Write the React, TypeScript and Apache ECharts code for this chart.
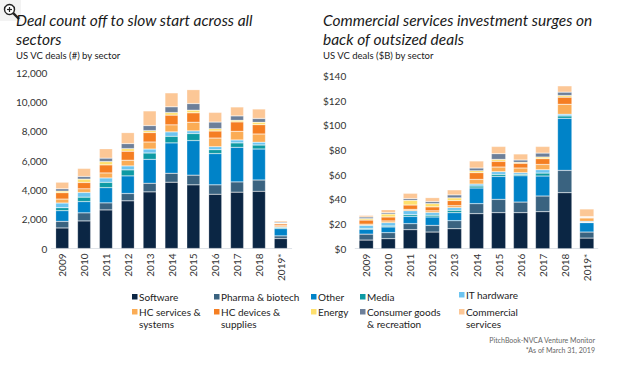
import React, { useEffect, useRef } from "react";
import * as echarts from "echarts";

const years = ["2009", "2010", "2011", "2012", "2013", "2014", "2015", "2016", "2017", "2018", "2019*"];
const sectors = [
  "Software",
  "Pharma & biotech",
  "Other",
  "Media",
  "IT hardware",
  "HC services & systems",
  "HC devices & supplies",
  "Energy",
  "Consumer goods & recreation",
  "Commercial services",
];
const legendLabels = [
  "Software",
  "Pharma & biotech",
  "Other",
  "Media",
  "IT hardware",
  "HC services &\nsystems",
  "HC devices &\nsupplies",
  "Energy",
  "Consumer goods\n& recreation",
  "Commercial\nservices",
];
const colors = ["#0b2644", "#3a6380", "#0083c8", "#0d9aa4", "#6cc4f0", "#fbac55", "#f57e22", "#ffe06e", "#6d7f99", "#fcc796"];

// US VC deals (#) by sector
const dealSoftware = [1400, 1880, 2630, 3250, 3860, 4520, 4340, 3700, 3840, 3900, 680];
const dealPharma = [450, 550, 480, 500, 590, 610, 660, 640, 700, 770, 180];
const dealOther = [730, 770, 1040, 1200, 1630, 2070, 2360, 2130, 2360, 2110, 500];
const dealMedia = [200, 300, 360, 410, 430, 450, 480, 270, 300, 270, 70];
const dealIT = [320, 320, 300, 270, 270, 300, 180, 200, 200, 200, 45];
const dealHCServices = [270, 250, 340, 390, 480, 480, 590, 590, 590, 550, 90];
const dealHCDevices = [430, 430, 550, 610, 640, 660, 640, 480, 640, 640, 110];
const dealEnergy = [110, 230, 230, 180, 140, 180, 180, 160, 110, 160, 45];
const dealConsumer = [160, 180, 230, 340, 340, 390, 450, 450, 300, 270, 70];
const dealCommercial = [450, 550, 640, 750, 1000, 950, 950, 660, 610, 640, 90];

// US VC deals ($B) by sector
const capSoftware = [7.0, 8.1, 15.4, 13.5, 16.2, 28.4, 29.2, 29.2, 30.0, 45.4, 8.6];
const capPharma = [4.8, 4.9, 4.9, 5.4, 6.5, 8.1, 10.8, 8.6, 12.7, 18.1, 4.9];
const capOther = [4.0, 4.6, 5.9, 6.8, 6.5, 12.7, 18.6, 21.3, 16.2, 42.2, 7.6];
const capMedia = [0.6, 0.8, 1.4, 1.4, 1.9, 1.6, 1.6, 1.1, 2.4, 1.9, 0.3];
const capIT = [2.5, 2.7, 3.2, 2.2, 2.2, 1.6, 2.2, 1.4, 2.7, 1.4, 0.8];
const capHCServices = [1.0, 1.4, 1.1, 1.4, 1.6, 3.8, 3.8, 3.8, 4.3, 8.1, 2.7];
const capHCDevices = [3.3, 3.2, 3.5, 3.2, 4.1, 5.4, 4.6, 3.8, 4.6, 5.7, 0.5];
const capEnergy = [1.2, 2.4, 3.8, 2.7, 2.2, 1.6, 1.6, 0.8, 1.4, 1.4, 0.3];
const capConsumer = [1.3, 1.1, 1.4, 1.6, 2.4, 2.2, 4.6, 1.9, 3.2, 2.7, 0.3];
const capCommercial = [1.3, 2.4, 4.3, 3.2, 4.1, 5.7, 5.9, 4.9, 5.4, 5.1, 6.2];

const dealData = [dealSoftware, dealPharma, dealOther, dealMedia, dealIT, dealHCServices, dealHCDevices, dealEnergy, dealConsumer, dealCommercial];
const capData = [capSoftware, capPharma, capOther, capMedia, capIT, capHCServices, capHCDevices, capEnergy, capConsumer, capCommercial];

const leftTitle = "Deal count off to slow start across all\nsectors";
const rightTitle = "Commercial services investment surges on\nback of outsized deals";
const leftSub = "US VC deals (#) by sector";
const rightSub = "US VC deals ($B) by sector";
const source = "PitchBook-NVCA Venture Monitor";
const note = "*As of March 31, 2019";

// legend layout (positions only)
const legendCols = [132, 214, 311, 360, 459];
const legendRows = [297, 312];

const FONT = "Lato, 'Noto Sans', sans-serif";

export default function App() {
  const ref = useRef<HTMLDivElement>(null);
  useEffect(() => {
    if (!ref.current) return;
    const chart = echarts.init(ref.current, undefined, { renderer: "svg" });

    const series: any[] = [];
    sectors.forEach((name, i) => {
      series.push({
        name,
        type: "bar",
        stack: "deals",
        xAxisIndex: 0,
        yAxisIndex: 0,
        data: dealData[i],
        barCategoryGap: "40%",
        itemStyle: { color: colors[i], borderColor: "rgba(255,255,255,0.45)", borderWidth: 0.5 },
      });
      series.push({
        name,
        type: "bar",
        stack: "cap",
        xAxisIndex: 1,
        yAxisIndex: 1,
        data: capData[i],
        barCategoryGap: "35%",
        itemStyle: { color: colors[i], borderColor: "rgba(255,255,255,0.45)", borderWidth: 0.5 },
      });
    });

    const legendGraphics: any[] = [];
    sectors.forEach((_, i) => {
      const col = i % 5;
      const row = Math.floor(i / 5);
      const x = legendCols[col];
      const y = legendRows[row] - (i === 4 ? 2 : 0);
      legendGraphics.push({
        type: "rect",
        shape: { x, y: y - 3, width: 5.5, height: 5.5 },
        style: { fill: colors[i] },
      });
      legendGraphics.push({
        type: "text",
        x: x + 7,
        y: y - 6.5,
        style: {
          text: legendLabels[i],
          font: `10px ${FONT}`,
          fill: "#222",
          lineHeight: 12,
          textVerticalAlign: "top",
        },
      });
    });

    const axisLabelCommon = { fontFamily: FONT, fontSize: 10, color: "#333" };

    chart.setOption({
      animation: false,
      backgroundColor: "#ffffff",
      title: [
        {
          text: leftTitle,
          left: 16,
          top: 10,
          padding: 0,
          textStyle: { fontFamily: FONT, fontStyle: "italic", fontWeight: "normal", fontSize: 15.5, lineHeight: 19.5, color: "#1a1a1a" },
        },
        {
          text: rightTitle,
          left: 323,
          top: 10,
          padding: 0,
          textStyle: { fontFamily: FONT, fontStyle: "italic", fontWeight: "normal", fontSize: 15.5, lineHeight: 19.5, color: "#1a1a1a" },
        },
        {
          text: leftSub,
          left: 16,
          top: 49,
          padding: 0,
          textStyle: { fontFamily: FONT, fontWeight: "normal", fontSize: 9.5, lineHeight: 12, color: "#1a1a1a" },
        },
        {
          text: rightSub,
          left: 323,
          top: 49,
          padding: 0,
          textStyle: { fontFamily: FONT, fontWeight: "normal", fontSize: 9.5, lineHeight: 12, color: "#1a1a1a" },
        },
      ],
      grid: [
        { left: 51.3, top: 72.5, width: 240.4, height: 176, containLabel: false },
        { left: 355.2, top: 76, width: 242.6, height: 172.7, containLabel: false },
      ],
      xAxis: [
        {
          type: "category",
          gridIndex: 0,
          data: years,
          axisLine: { lineStyle: { color: "#dfe3e8", width: 1 } },
          axisTick: { show: false },
          axisLabel: { ...axisLabelCommon, rotate: 90, margin: 5, interval: 0 },
        },
        {
          type: "category",
          gridIndex: 1,
          data: years,
          axisLine: { lineStyle: { color: "#dfe3e8", width: 1 } },
          axisTick: { show: false },
          axisLabel: { ...axisLabelCommon, rotate: 90, margin: 5, interval: 0 },
        },
      ],
      yAxis: [
        {
          type: "value",
          gridIndex: 0,
          min: 0,
          max: 12000,
          interval: 2000,
          axisLine: { show: false },
          axisTick: { show: false },
          splitLine: { show: false },
          axisLabel: { ...axisLabelCommon, margin: 4, formatter: (v: number) => v.toLocaleString("en-US") },
        },
        {
          type: "value",
          gridIndex: 1,
          min: 0,
          max: 140,
          interval: 20,
          axisLine: { show: false },
          axisTick: { show: false },
          splitLine: { show: false },
          axisLabel: { ...axisLabelCommon, margin: 9, formatter: (v: number) => "$" + v },
        },
      ],
      series,
      graphic: [
        ...legendGraphics,
        {
          type: "text",
          right: 25,
          top: 336,
          style: { text: source, font: `7px ${FONT}`, fill: "#666", textAlign: "right" },
        },
        {
          type: "text",
          right: 25,
          top: 346.5,
          style: { text: note, font: `7px ${FONT}`, fill: "#666", textAlign: "right" },
        },
        // magnifier icon from the screenshot
        {
          type: "group",
          children: [
            { type: "rect", shape: { x: 0, y: 0, width: 21, height: 21 }, style: { fill: "rgba(235,235,235,0.6)" } },
            { type: "circle", shape: { cx: 9.5, cy: 9.5, r: 5 }, style: { fill: "#fff", stroke: "#222", lineWidth: 1.4 } },
            { type: "line", shape: { x1: 7, y1: 9.5, x2: 12, y2: 9.5 }, style: { stroke: "#222", lineWidth: 1.2 } },
            { type: "line", shape: { x1: 9.5, y1: 7, x2: 9.5, y2: 12 }, style: { stroke: "#222", lineWidth: 1.2 } },
            { type: "line", shape: { x1: 13.2, y1: 13.2, x2: 19, y2: 19 }, style: { stroke: "#222", lineWidth: 2.4 } },
          ],
        },
      ],
    });
    return () => chart.dispose();
  }, []);
  return (
    <div
      ref={ref}
      style={{ position: "absolute", left: 0, top: 0, width: 620, height: 370, background: "#fff" }}
    />
  );
}
